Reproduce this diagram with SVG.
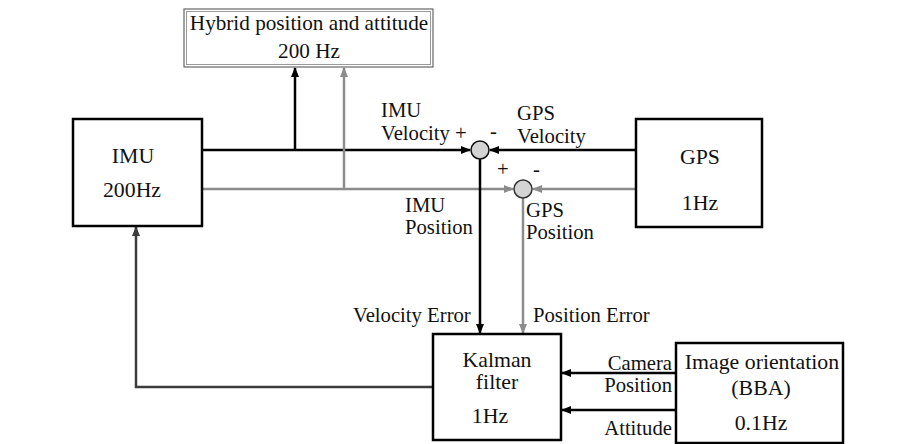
<svg xmlns="http://www.w3.org/2000/svg" width="910" height="444" viewBox="0 0 910 444">
<style>
text{font-family:"Liberation Serif","DejaVu Serif",serif;font-size:20.7px;fill:#111}
.c{text-anchor:middle}
.b{font-size:21.8px}
.box{fill:#fff;stroke:#000;stroke-width:2.5}
.k{stroke:#000;stroke-width:2.5;fill:none}
.g{stroke:#8c8c8c;stroke-width:2.5;fill:none}
.d{stroke:#3c3c3c;stroke-width:2.5;fill:none}
.sum{fill:#d4d4d4;stroke:#111;stroke-width:1.5}
</style>
<defs>
<marker id="ak" markerWidth="10" markerHeight="8" refX="9" refY="4" orient="auto" markerUnits="userSpaceOnUse"><path d="M0,0 L10,4 L0,8 z" fill="#000"/></marker>
<marker id="ag" markerWidth="10" markerHeight="8" refX="9" refY="4" orient="auto" markerUnits="userSpaceOnUse"><path d="M0,0 L10,4 L0,8 z" fill="#8c8c8c"/></marker>
<marker id="ad" markerWidth="10" markerHeight="8" refX="9" refY="4" orient="auto" markerUnits="userSpaceOnUse"><path d="M0,0 L10,4 L0,8 z" fill="#3c3c3c"/></marker>
</defs>
<g id="connectors">
<line class="k" x1="202" y1="150" x2="470" y2="150" marker-end="url(#ak)"/>
<line class="k" x1="636" y1="150" x2="490" y2="150" marker-end="url(#ak)"/>
<line class="g" x1="202" y1="189" x2="513" y2="189" marker-end="url(#ag)"/>
<line class="g" x1="636" y1="189" x2="533" y2="189" marker-end="url(#ag)"/>
<line class="k" x1="295" y1="150" x2="295" y2="68" marker-end="url(#ak)"/>
<line class="g" x1="344" y1="189" x2="344" y2="68" marker-end="url(#ag)"/>
<line class="k" x1="480" y1="159" x2="480" y2="333" marker-end="url(#ak)"/>
<line class="g" x1="523" y1="198" x2="523" y2="333" marker-end="url(#ag)"/>
<line class="k" x1="676" y1="373" x2="562" y2="373" marker-end="url(#ak)"/>
<line class="k" x1="676" y1="410" x2="562" y2="410" marker-end="url(#ak)"/>
<polyline class="d" points="433,387 136,387 136,227" marker-end="url(#ad)"/>
</g>
<g id="hybrid">
<rect x="184" y="9" width="249" height="58" fill="#fff" stroke="#666" stroke-width="1.2"/>
<rect x="186.5" y="11.5" width="244" height="53" fill="none" stroke="#999" stroke-width="1"/>
<text class="c" x="309" y="30" style="font-size:21.2px">Hybrid position and attitude</text>
<text class="c" x="309" y="58" style="font-size:21.2px">200 Hz</text>
</g>
<g id="imu">
<rect class="box" x="73" y="119" width="129" height="107"/>
<text class="c b" x="133" y="163">IMU</text>
<text class="c b" x="132" y="197">200Hz</text>
</g>
<g id="gps">
<rect class="box" x="636" y="119" width="126" height="108"/>
<text class="c b" x="700" y="164">GPS</text>
<text class="c b" x="700" y="210">1Hz</text>
</g>
<g id="sum1"><circle class="sum" cx="480" cy="150" r="9"/></g>
<g id="sum2"><circle class="sum" cx="523" cy="189" r="9" style="stroke:#333"/></g>
<g id="kalman">
<rect class="box" x="433" y="334" width="128" height="106"/>
<text class="c b" x="497" y="367">Kalman</text>
<text class="c b" x="497" y="389">filter</text>
<text class="c b" x="490" y="423">1Hz</text>
</g>
<g id="image">
<rect class="box" x="676" y="343" width="167" height="100"/>
<text class="c b" x="762" y="369">Image orientation</text>
<text class="c b" x="761" y="395">(BBA)</text>
<text class="c b" x="761" y="430">0.1Hz</text>
</g>
<g id="labels">
<text x="381" y="117">IMU</text>
<text x="381" y="140">Velocity +</text>
<text x="490" y="138">-</text>
<text x="517" y="120">GPS</text>
<text x="517" y="143">Velocity</text>
<text x="497" y="176">+</text>
<text x="533" y="176">-</text>
<text x="405" y="212">IMU</text>
<text x="405" y="234">Position</text>
<text x="526" y="217">GPS</text>
<text x="526" y="239">Position</text>
<text x="353" y="322">Velocity Error</text>
<text x="533" y="322">Position Error</text>
<text x="672" y="370" text-anchor="end">Camera</text>
<text x="672" y="392" text-anchor="end">Position</text>
<text x="672" y="435" text-anchor="end">Attitude</text>
</g>
</svg>
